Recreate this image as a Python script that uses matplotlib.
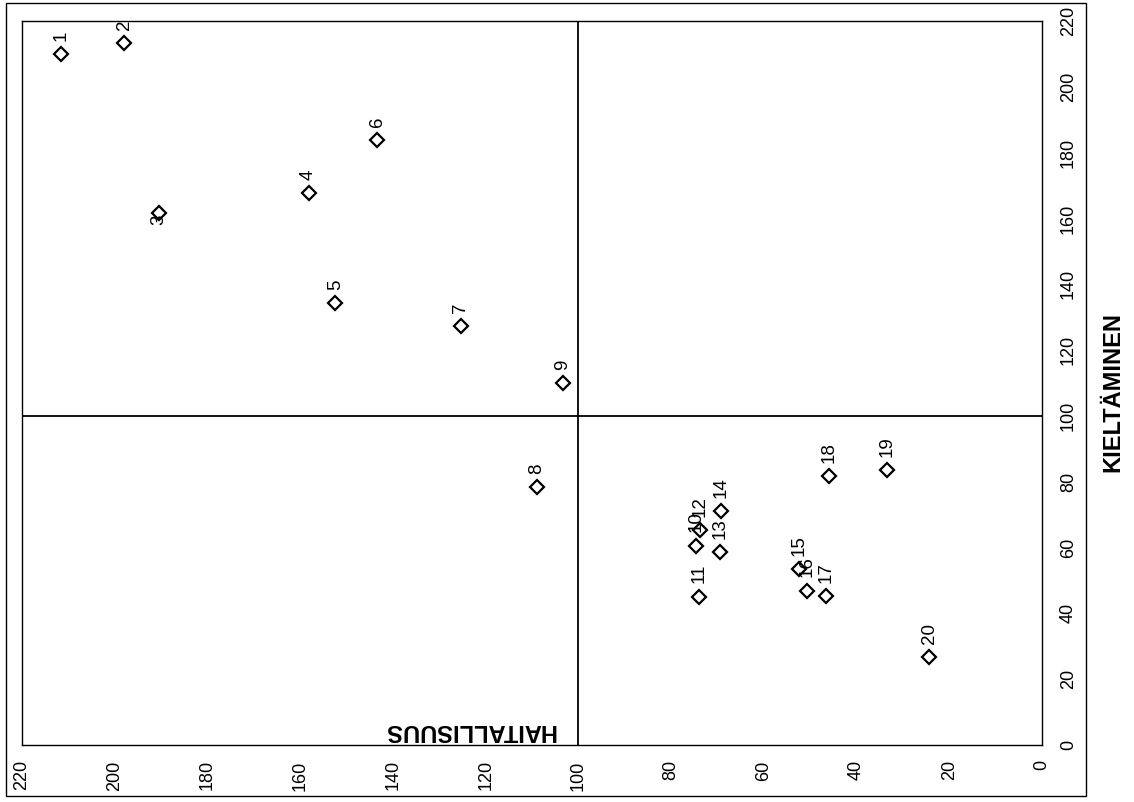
import matplotlib.pyplot as plt
from matplotlib.patches import Rectangle

plt.rcParams['font.family'] = ['Liberation Sans', 'DejaVu Sans']

# Data: point number, HAITALLISUUS, KIELTÄMINEN
numbers = [str(i) for i in range(1, 21)]
haitallisuus = [211.6, 198.0, 190.4, 158.2, 152.4, 143.4, 125.4, 108.9, 103.3, 74.6,
                74.0, 73.8, 69.5, 69.3, 52.4, 50.6, 46.5, 45.9, 33.5, 24.3]
kieltaminen = [209.9, 213.3, 161.6, 167.7, 134.3, 183.9, 127.4, 78.3, 109.9, 60.6,
               45.1, 65.3, 58.5, 71.1, 53.4, 46.9, 45.3, 81.6, 83.6, 26.8]
ticks = list(range(0, 221, 20))

W, H = 1134, 802
fig = plt.figure(figsize=(W / 100, H / 100), dpi=100)
ax = fig.add_axes([22 / W, (H - 745) / H, (1042 - 22) / W, (745 - 21) / H])

ax.plot(haitallisuus, kieltaminen, linestyle='none', marker='D', ms=7,
        mfc='white', mec='black', mew=1.6, zorder=3)

# point labels sit above the marker, label 3 below
for n, h, k in zip(numbers, haitallisuus, kieltaminen):
    if n == '3':
        ax.annotate(n, (h, k), xytext=(0, -1), textcoords='offset points',
                    rotation=90, ha='center', va='top', fontsize=13.5)
    else:
        ax.annotate(n, (h, k), xytext=(0, 9.5), textcoords='offset points',
                    rotation=90, ha='center', va='bottom', fontsize=13.5)

ax.axhline(100, color='black', lw=1.3, zorder=2)
ax.axvline(100, color='black', lw=1.3, zorder=2)

ax.set_xlim(220, 0)
ax.set_ylim(0, 220)
ax.set_xticks(ticks)
ax.set_yticks(ticks)
ax.set_xticklabels([str(t) for t in ticks], rotation=90, fontsize=13)
ax.set_yticklabels([str(t) for t in ticks], rotation=90, fontsize=13, va='center')
ax.yaxis.tick_right()
ax.tick_params(axis='x', length=0, pad=11)
ax.tick_params(axis='y', length=0, pad=13)
for s in ax.spines.values():
    s.set_linewidth(1.0)

# axis titles
ax.text(105, 1.0, 'HAITALLISUUS', rotation=180, ha='right', va='bottom',
        fontsize=17, fontweight='bold')
fig.text(1113 / W, 1 - 392 / H, 'KIELTÄMINEN', rotation=90, ha='center', va='center',
         fontsize=17, fontweight='bold')

# chart area border
fig.patches.append(Rectangle((6 / W, 1 - 796 / H), (1086 - 6) / W, (796 - 3) / H,
                             transform=fig.transFigure, fill=False, edgecolor='black', lw=1.0))

fig.savefig('out.png', dpi=100)
